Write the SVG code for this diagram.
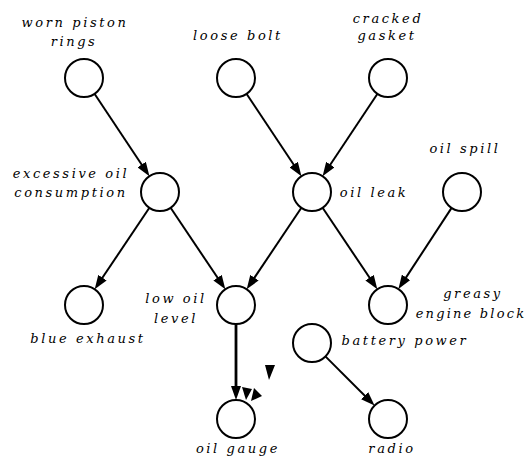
<svg xmlns="http://www.w3.org/2000/svg" width="529" height="460" viewBox="0 0 529 460">
<style>
.n{fill:#fff;stroke:#000;stroke-width:2}
.t{font-family:"DejaVu Serif","Liberation Serif",serif;font-style:italic;font-size:13px;letter-spacing:2.6px;text-anchor:middle;fill:#000}
.e{stroke:#000;stroke-width:2;fill:none;marker-end:url(#ah)}
</style>
<defs>
<marker id="ah" viewBox="0 0 14 10" refX="8" refY="5" markerWidth="14" markerHeight="10" markerUnits="userSpaceOnUse" orient="auto">
<path d="M0,0 L14,5 L0,10 z" fill="#000"/>
</marker>
</defs>
<rect width="529" height="460" fill="#fff"/>
<g id="connectors">
<line class="e" x1="94.5" y1="93.8" x2="146.1" y2="171.2"/>
<line class="e" x1="246.5" y1="93.8" x2="298.1" y2="171.2"/>
<line class="e" x1="377.5" y1="93.8" x2="325.9" y2="171.2"/>
<line class="e" x1="149.4" y1="207.8" x2="98" y2="284.3"/>
<line class="e" x1="170.6" y1="207.8" x2="222" y2="284.3"/>
<line class="e" x1="301.4" y1="207.8" x2="250" y2="284.3"/>
<line class="e" x1="322.6" y1="207.8" x2="374" y2="284.3"/>
<line class="e" x1="451.6" y1="207.9" x2="401.7" y2="284.1"/>
<line class="e" x1="236" y1="324" x2="236" y2="394" style="stroke-width:2.8"/>
<line class="e" x1="325.4" y1="356.4" x2="370.3" y2="401.3"/>
<polygon points="242,387 252,389 246,400" fill="#000"/>
<polygon points="254,388 262,396 251,401" fill="#000"/>
<polygon points="265,365 275,365 269,380" fill="#000"/>
</g>
<g id="worn-piston-rings"><circle class="n" cx="84" cy="78" r="19"/><text class="t" x="75" y="27">worn piston</text><text class="t" x="74" y="46">rings</text></g>
<g id="loose-bolt"><circle class="n" cx="236" cy="78" r="19"/><text class="t" x="238" y="40">loose bolt</text></g>
<g id="cracked-gasket"><circle class="n" cx="388" cy="78" r="19"/><text class="t" x="388" y="23">cracked</text><text class="t" x="387" y="40">gasket</text></g>
<g id="excessive-oil-consumption"><circle class="n" cx="160" cy="192" r="19"/><text class="t" x="71" y="178">excessive oil</text><text class="t" x="71" y="197">consumption</text></g>
<g id="oil-leak"><circle class="n" cx="312" cy="192" r="19"/><text class="t" x="374" y="197">oil leak</text></g>
<g id="oil-spill"><circle class="n" cx="462" cy="192" r="19"/><text class="t" x="465" y="153">oil spill</text></g>
<g id="blue-exhaust"><circle class="n" cx="84" cy="305" r="19"/><text class="t" x="88" y="343">blue exhaust</text></g>
<g id="low-oil-level"><circle class="n" cx="236" cy="305" r="19"/><text class="t" x="176" y="303">low oil</text><text class="t" x="176" y="323">level</text></g>
<g id="greasy-engine-block"><circle class="n" cx="388" cy="305" r="19"/><text class="t" x="473" y="298">greasy</text><text class="t" x="471" y="318" style="letter-spacing:2.2px">engine block</text></g>
<g id="battery-power"><circle class="n" cx="312" cy="343" r="19"/><text class="t" x="405" y="345">battery power</text></g>
<g id="oil-gauge"><circle class="n" cx="236" cy="419" r="19"/><text class="t" x="238" y="453">oil gauge</text></g>
<g id="radio"><circle class="n" cx="388" cy="419" r="19"/><text class="t" x="392" y="453">radio</text></g>
</svg>
